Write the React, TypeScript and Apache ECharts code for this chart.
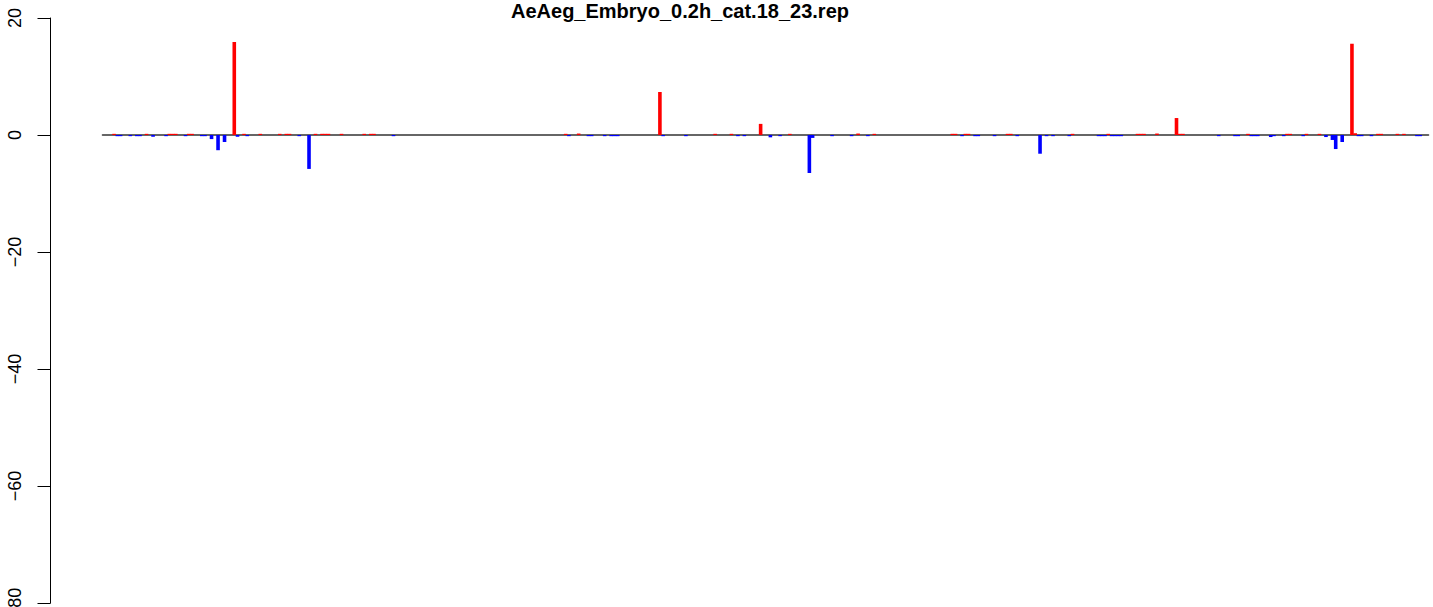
import React, { useEffect, useRef } from "react";
import * as echarts from "echarts";

const TITLE = "AeAeg_Embryo_0.2h_cat.18_23.rep";
const N_BARS = 408;
const Y_TICKS = [-80, -60, -40, -20, 0, 20];

// non-zero bars: position index and value
const barIndex = [
  3, 4, 5, 8, 10, 11, 13, 15, 19, 20, 21, 22, 25, 26, 27, 30, 31, 33, 35, 37,
  40, 41, 43, 44, 48, 54, 56, 57, 60, 63, 65, 67, 68, 69, 73, 80, 82, 83, 89,
  142, 143, 146, 149, 150, 154, 156, 157, 158, 171, 172, 179, 188, 193, 195,
  197, 202, 205, 208, 211, 217, 218, 224, 230, 232, 235, 237,
  261, 262, 264, 265, 266, 268, 269, 274, 278, 279, 281, 288, 290, 292, 297,
  298, 306, 307, 308, 309, 310, 311, 312, 313, 318, 319, 320, 324, 330, 331,
  332, 343, 348, 349, 352, 353, 354, 355, 359, 360, 363, 364, 365, 369, 370,
  374, 376, 378, 379, 381, 384, 385, 386, 387, 390, 392, 393, 398, 400, 404, 405,
];
const barValue = [
  0.2, -0.2, -0.2, -0.2, -0.2, -0.2, 0.2, -0.3, -0.2, 0.2, 0.2, 0.2, -0.2, 0.2, 0.2, -0.2, -0.2, -0.7, -2.6, -1.2,
  15.9, -0.3, 0.2, -0.2, 0.2, 0.2, 0.2, 0.2, -0.2, -5.8, 0.2, 0.2, 0.2, 0.2, 0.2, 0.2, 0.2, 0.2, -0.2,
  0.2, -0.2, 0.25, -0.2, -0.2, -0.2, -0.2, -0.2, -0.2, 7.35, -0.2, -0.2, 0.2, 0.2, -0.2,
  -0.2, 1.9, -0.4, -0.2, 0.2, -6.5, -0.5, -0.2, -0.2, 0.25, -0.2, 0.2,
  0.2, 0.2, -0.2, 0.2, 0.2, -0.2, -0.2, -0.2, 0.2, 0.2, -0.2, -3.2, -0.2, -0.2, -0.2,
  0.2, -0.2, -0.2, -0.2, 0.2, -0.2, -0.2, -0.2, -0.2, 0.2, 0.2, 0.2, 0.25, 2.9, 0.2,
  0.2, -0.2, -0.2, -0.2, 0.2, -0.2, -0.2, -0.2, -0.35, -0.2, -0.2, 0.2, 0.2, -0.2, 0.2,
  0.2, -0.35, -0.85, -2.4, -1.2, 15.6, 0.3, -0.2, -0.2, -0.2, 0.2, 0.2, 0.2, 0.2, -0.2, -0.2,
];

const categories: string[] = [];
const values: number[] = [];
for (let i = 0; i < N_BARS; i++) {
  categories.push(String(i + 1));
  values.push(0);
}
barIndex.forEach((idx, k) => {
  values[idx] = barValue[k];
});

export default function App() {
  const ref = useRef<HTMLDivElement>(null);
  useEffect(() => {
    if (!ref.current) return;
    const chart = echarts.init(ref.current, null, { renderer: "svg" });
    const font = "'Liberation Sans', Arial, Helvetica, sans-serif";
    chart.setOption({
      animation: false,
      backgroundColor: "#ffffff",
      title: {
        text: TITLE,
        left: 675,
        textAlign: "center",
        top: -4,
        textStyle: {
          fontFamily: font,
          fontWeight: "bold",
          fontSize: 20,
          color: "#000",
        },
      },
      grid: {
        left: 102.7,
        right: 4.7,
        top: 18,
        bottom: 4,
        containLabel: false,
        outerBoundsMode: "none",
      },
      xAxis: {
        type: "category",
        data: categories,
        boundaryGap: true,
        axisLine: { show: true, onZero: true, lineStyle: { color: "#666666", width: 2 } },
        axisTick: { show: false },
        axisLabel: { show: false },
        splitLine: { show: false },
      },
      yAxis: {
        type: "value",
        min: Y_TICKS[0],
        max: Y_TICKS[Y_TICKS.length - 1],
        interval: 20,
        offset: 52.2,
        axisLine: { show: true, lineStyle: { color: "#000", width: 1 } },
        axisTick: { show: true, length: 13, lineStyle: { color: "#000", width: 1 } },
        splitLine: { show: false },
        axisLabel: {
          rotate: 90,
          margin: 27,
          fontFamily: font,
          fontSize: 18,
          color: "#000",
          formatter: (v: number) => String(v).replace("-", "\u2212"),
        },
      },
      series: [
        {
          type: "bar",
          data: values.map((v) => ({
            value: v,
            itemStyle: { color: v >= 0 ? "#FF0000" : "#0000FF" },
          })),
          barWidth: 3.6,
          silent: true,
        },
      ],
    });
    return () => chart.dispose();
  }, []);
  return (
    <div
      ref={ref}
      style={{ position: "fixed", left: 0, top: 0, width: 1433, height: 607, background: "#fff" }}
    />
  );
}
